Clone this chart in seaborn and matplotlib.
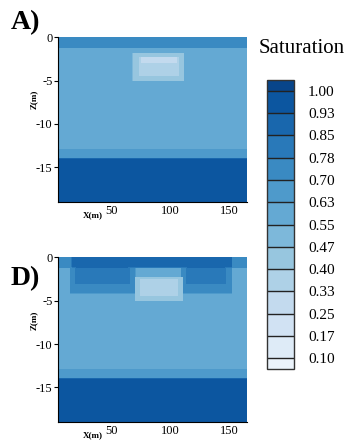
import numpy as np
import matplotlib
matplotlib.use("Agg")
import matplotlib.pyplot as plt
from matplotlib.colors import ListedColormap, BoundaryNorm
import seaborn as sns

# legend levels (Saturation)
levels = [0.10, 0.17, 0.25, 0.33, 0.40, 0.47, 0.55, 0.63, 0.70, 0.78, 0.85, 0.93, 1.00]

# model domain (m)
x_extent = [5, 165]
z_extent = [-19, 0]

# horizontal layers shared by both panels: z top, z bottom, saturation
layer_top = [0, -1.2, -13, -14]
layer_bot = [-1.2, -13, -14, -19]
layer_sat = [0.74, 0.59, 0.66, 0.96]

# local zones painted over the layers: x0, x1, z top, z bottom, saturation
zones_a = [
    (68, 112, -1.8, -5.1, 0.44),
    (73, 108, -2.2, -4.5, 0.37),
    (75, 106, -2.2, -3.0, 0.31),
]
zones_d = [
    (17, 152, 0, -1.1, 0.88),
    (16, 70, -1.1, -4.1, 0.74),
    (110, 152, -1.1, -4.1, 0.74),
    (20, 65, -1.1, -3.0, 0.82),
    (114, 147, -1.1, -3.0, 0.82),
    (70, 111, -2.2, -5.1, 0.44),
    (74, 107, -2.4, -4.5, 0.37),
]

xticks = [50, 100, 150]
zticks = [0, -5, -10, -15]


def build_field(zones):
    x = np.linspace(x_extent[0], x_extent[1], 321)
    z = np.linspace(z_extent[0], z_extent[1], 381)
    X, Z = np.meshgrid(x, z)
    S = np.zeros_like(X)
    for top, bot, s in zip(layer_top, layer_bot, layer_sat):
        S[(Z <= top) & (Z >= bot)] = s
    for x0, x1, top, bot, s in zones:
        S[(X >= x0) & (X <= x1) & (Z <= top) & (Z >= bot)] = s
    return X, Z, S


sns.set_style("ticks")
plt.rcParams["font.family"] = ["Liberation Serif", "DejaVu Serif"]
plt.rcParams["axes.unicode_minus"] = False
plt.rcParams["text.color"] = "black"
plt.rcParams["axes.labelcolor"] = "black"
plt.rcParams["xtick.color"] = "black"
plt.rcParams["ytick.color"] = "black"

pal = sns.color_palette("Blues", as_cmap=True)
colors = [pal(t) for t in np.linspace(0.06, 0.92, len(levels) + 1)]
cmap = ListedColormap(colors[1:-1])
cmap.set_under(colors[0])
cmap.set_over(colors[-1])
norm = BoundaryNorm(levels, cmap.N)

fig = plt.figure(figsize=(3.59, 4.42), dpi=100)
ax_a = fig.add_axes([0.1616, 0.543, 0.526, 0.373])
ax_d = fig.add_axes([0.1616, 0.045, 0.526, 0.373])
cax = fig.add_axes([0.744, 0.165, 0.075, 0.654])

for ax, zones, tag, ty in [(ax_a, zones_a, "A)", 0.948), (ax_d, zones_d, "D)", 0.369)]:
    X, Z, S = build_field(zones)
    cs = ax.contourf(X, Z, S, levels=levels, cmap=cmap, norm=norm, extend="both")
    ax.set_xlim(x_extent)
    ax.set_ylim(z_extent)
    ax.set_xticks(xticks)
    ax.set_yticks(zticks)
    ax.set_xticks(np.arange(10, 165, 10), minor=True)
    ax.tick_params(axis="x", direction="in", length=3, width=0.8, labelsize=9, pad=2)
    ax.tick_params(axis="x", which="minor", direction="in", length=1.5, width=0.6)
    ax.tick_params(axis="y", direction="out", length=3, width=0.8, labelsize=9, pad=1)
    sns.despine(ax=ax)
    for sp in ["left", "bottom"]:
        ax.spines[sp].set_linewidth(0.8)
        ax.spines[sp].set_color("black")
    ax.set_xlabel("X(m)", fontsize=6.5, fontweight="bold")
    ax.xaxis.set_label_coords(0.185, -0.055)
    ax.set_ylabel("Z(m)", fontsize=6.5, fontweight="bold")
    ax.yaxis.set_label_coords(-0.105, 0.62)
    fig.text(0.07, ty, tag, fontsize=20, fontweight="bold", ha="center", va="center")

cb = fig.colorbar(cs, cax=cax, ticks=levels, extendrect=True, extendfrac=0.04,
                  drawedges=True)
cb.outline.set_linewidth(1.0)
cb.outline.set_edgecolor("#333333")
cb.dividers.set_color("#222222")
cb.dividers.set_linewidth(1.0)
cb.ax.set_yticklabels(["%.2f" % v for v in levels])
cb.ax.tick_params(length=0, labelsize=11, pad=10)

fig.text(0.839, 0.891, "Saturation", fontsize=15, ha="center", va="center")

fig.savefig("out.png", dpi=100)
